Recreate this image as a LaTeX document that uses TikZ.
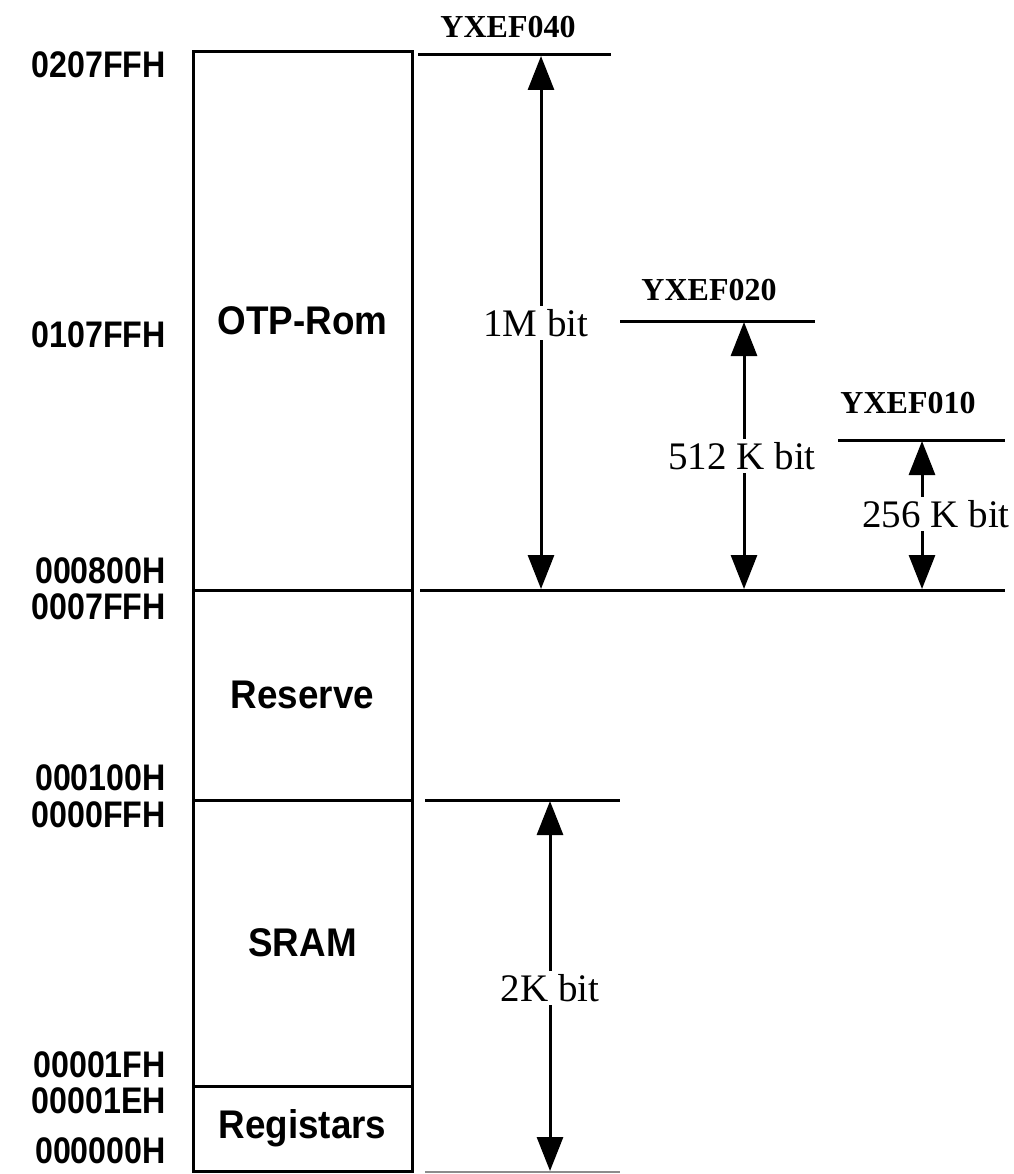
\documentclass[tikz,border=0pt]{standalone}
\usepackage{fontspec}
\setmainfont{Liberation Serif}
\newfontfamily\addrfont[FakeStretch=0.87]{Liberation Sans}
\newfontfamily\segfont[FakeStretch=0.92]{Liberation Sans}
\usetikzlibrary{arrows.meta}
\begin{document}
\begin{tikzpicture}[x=1pt,y=-1pt,
  seg/.style={draw,line width=3pt,minimum width=219pt,inner sep=0pt,
    font=\segfont\bfseries\fontsize{40}{42}\selectfont},
  addr/.style={anchor=east,inner sep=0pt,font=\addrfont\bfseries\fontsize{37}{39}\selectfont},
  lvl/.style={line width=3pt},
  dim/.style={line width=3pt,{Triangle[width=26pt,length=34pt]}-{Triangle[width=26pt,length=34pt]}},
  dimlbl/.style={fill=white,inner sep=3pt,font=\fontsize{39}{42}\selectfont},
  chip/.style={inner sep=0pt,font=\bfseries\fontsize{32}{34}\selectfont}]
\useasboundingbox (0,0) rectangle (1013,1174);
% memory segments
\node[seg,minimum height=538pt] (otp) at (302.5,321) {OTP-Rom};
\node[seg,minimum height=210pt] (res) at (302.5,695) {Reserve};
\node[seg,minimum height=286pt] (sram) at (302.5,943) {SRAM};
\node[seg,minimum height=85pt] (reg) at (302.5,1128.5) {Registars};
% addresses
\node[addr] (a1) at (166,65) {0207FFH};
\node[addr] (a2) at (166,335) {0107FFH};
\node[addr] (a3) at (166,571) {000800H};
\node[addr] (a4) at (166,607) {0007FFH};
\node[addr] (a5) at (166,778) {000100H};
\node[addr] (a6) at (166,815) {0000FFH};
\node[addr] (a7) at (166,1065) {00001FH};
\node[addr] (a8) at (166,1101) {00001EH};
\node[addr] (a9) at (166,1151) {000000H};
% level lines
\coordinate (l40a) at (418,55);  \coordinate (l40b) at (611,55);
\coordinate (l20a) at (620,321); \coordinate (l20b) at (815,321);
\coordinate (l10a) at (838,440); \coordinate (l10b) at (1005,440);
\coordinate (lba) at (420,590);  \coordinate (lbb) at (1005,590);
\coordinate (lsa) at (425,800);  \coordinate (lsb) at (620,800);
\coordinate (l0a) at (425,1172); \coordinate (l0b) at (620,1172);
\draw[lvl] (l40a) -- (l40b);
\draw[lvl] (l20a) -- (l20b);
\draw[lvl] (l10a) -- (l10b);
\draw[lvl] (lba) -- (lbb);
\draw[lvl] (lsa) -- (lsb);
\draw[line width=2pt,black!45] (l0a) -- (l0b);
% chip labels
\node[chip] (c40) at (508,27) {YXEF040};
\node[chip] (c20) at (709,290) {YXEF020};
\node[chip] (c10) at (908,403) {YXEF010};
% dimension arrows
\coordinate (d1t) at (541,56);  \coordinate (d1b) at (541,589);
\coordinate (d2t) at (744,322); \coordinate (d2b) at (744,589);
\coordinate (d3t) at (922,441); \coordinate (d3b) at (922,589);
\coordinate (d4t) at (550,801); \coordinate (d4b) at (550,1171);
\draw[dim] (d1t) -- (d1b);
\draw[dim] (d2t) -- (d2b);
\draw[dim] (d3t) -- (d3b);
\draw[dim] (d4t) -- (d4b);
\node[dimlbl] (t1) at (536,323) {1M bit};
\node[dimlbl] (t2) at (742,456) {512 K bit};
\node[dimlbl] (t3) at (936,514) {256 K bit};
\node[dimlbl] (t4) at (550,988) {2K bit};
\end{tikzpicture}
\end{document}
